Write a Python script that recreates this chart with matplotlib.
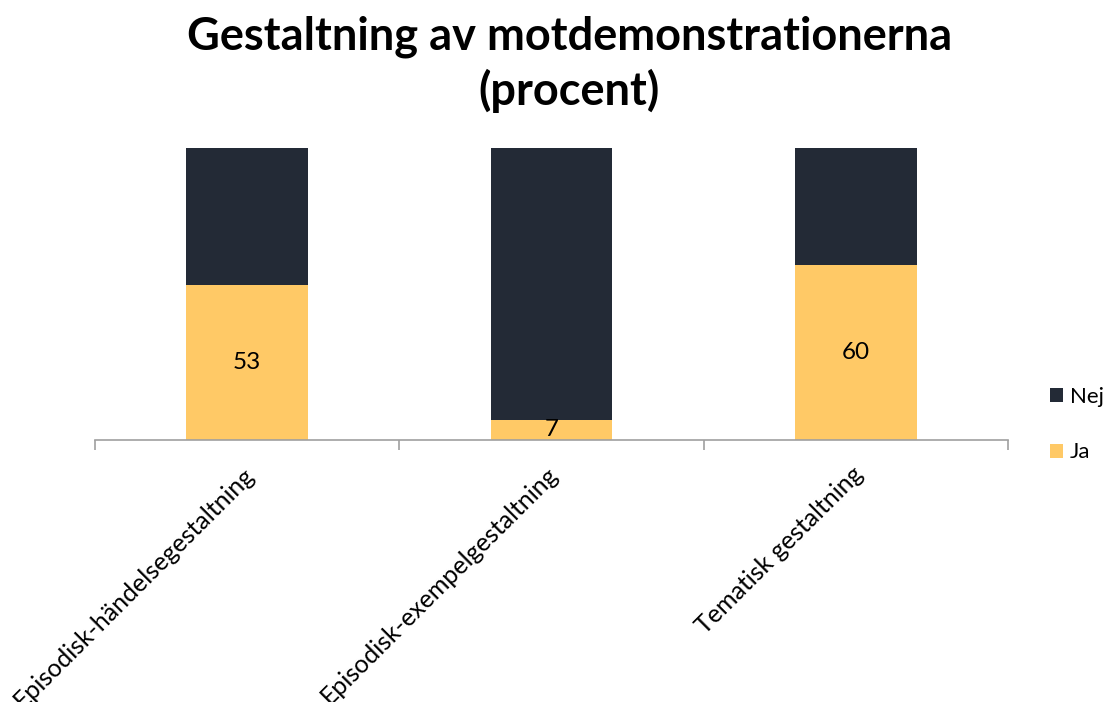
import matplotlib.pyplot as plt
import numpy as np

categories = ['Episodisk-händelsegestaltning', 'Episodisk-exempelgestaltning', 'Tematisk gestaltning']
ja = [53, 7, 60]
nej = [47, 93, 40]

plt.rcParams['font.family'] = ['Lato', 'DejaVu Sans']

fig = plt.figure(figsize=(11.1, 7.02), dpi=100)
ax = fig.add_axes([0.0856, 0.3732, 0.8225, 0.4158])

x = np.arange(len(categories))
b1 = ax.bar(x, ja, width=0.4, color='#FFC966', label='Ja')
b2 = ax.bar(x, nej, width=0.4, bottom=ja, color='#232A36', label='Nej')

for xi, v in zip(x, ja):
    ax.text(xi, v / 2, str(v), ha='center', va='center', fontsize=17.5, color='black')

ax.set_xlim(-0.5, 2.5)
ax.set_ylim(0, 100)
ax.set_yticks([])
for s in ['top', 'right', 'left']:
    ax.spines[s].set_visible(False)
ax.spines['bottom'].set_color('#A0A0A0')
ax.spines['bottom'].set_linewidth(1.2)

# ticks at category boundaries, labels at centers
ax.set_xticks([-0.5, 0.5, 1.5, 2.5])
ax.set_xticklabels([])
ax.tick_params(axis='x', length=7, color='#A0A0A0', width=1.2)
for xi, lab in zip(x, categories):
    ax.annotate(lab, xy=(xi + 0.01, 0), xycoords=('data', 'axes fraction'),
                xytext=(0, -22), textcoords='offset points',
                rotation=45, rotation_mode='anchor', ha='right', va='center',
                fontsize=18)

fig.text(0.513, 0.978, 'Gestaltning av motdemonstrationerna\n(procent)',
         ha='center', va='top', fontsize=32.5, fontweight='bold', linespacing=1.3)

handles = [b2, b1]
fig.legend(handles, ['Nej', 'Ja'], loc='center left', bbox_to_anchor=(0.946, 0.395),
           frameon=False, fontsize=16, handlelength=0.6, handleheight=0.6,
           handletextpad=0.3, labelspacing=1.6, borderpad=0, borderaxespad=0)

fig.savefig('out.png', dpi=100)
